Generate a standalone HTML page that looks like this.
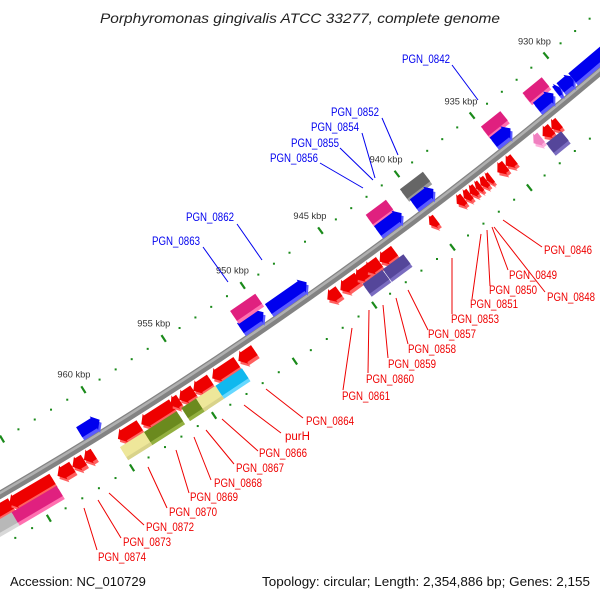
<!DOCTYPE html>
<html><head><meta charset="utf-8"><style>
html,body{margin:0;padding:0;background:#fff;}
svg{display:block;font-family:"Liberation Sans",sans-serif;}
</style></head><body>
<svg id="map" width="600" height="600" viewBox="0 0 600 600">
<text x="100" y="23" textLength="400" lengthAdjust="spacingAndGlyphs" font-size="14" font-style="italic" fill="#222">Porphyromonas gingivalis ATCC 33277, complete genome</text>
<g id="backbone-layer"></g>
<g id="tick-layer"></g>
<g id="gene-layer"></g>
<g id="label-layer" font-size="11.5"></g>
<text x="10" y="586" font-size="13" fill="#111">Accession: NC_010729</text>
<text x="262" y="586" textLength="328" lengthAdjust="spacingAndGlyphs" font-size="13" fill="#111">Topology: circular; Length: 2,354,886 bp; Genes: 2,155</text>
</svg>
<script>
const geneStart = [961.36,951.36,949.6,951.3,942.6,942.6,940.36,940.27,935.0,935.0,932.2,932.1,930.8,930.5,929.7,
 967.6,966.4,963.5,962.6,961.9,968.2,966.5,959.83,958.4,956.6,956.07,955.2,954.03,952.4,959.97,958.5,956.2,955.3,954.1,
 946.8,945.97,945.0,944.35,943.46,944.85,943.56,940.25,938.46,938.0,937.6,937.2,936.9,936.5,935.8,935.25,932.8,932.2,933.4,932.9];
const geneEnd = [960.11,949.9,947.16,949.7,941.28,941.04,938.85,938.96,933.7,933.85,930.9,930.97,930.5,929.6,927.0,
 966.3,963.8,962.6,961.9,961.3,966.5,963.8,958.5,956.5,956.06,955.18,954.15,952.5,951.4,958.46,956.5,955.1,954.1,952.46,
 946.06,944.85,944.0,943.47,942.5,943.6,942.24,939.8,938.0,937.6,937.2,936.9,936.5,936.2,935.25,934.7,932.2,931.7,932.9,931.9];
const geneRow = [-1,-1,-1,-2,-2,-1,-2,-1,-2,-1,-2,-1,-1,-1,-1,
 1,1,1,1,1,2,2,1,1,1,1,1,1,1,2,2,2,2,2,
 1,1,1,1,1,2,2,1,1,1,1,1,1,1,1,1,1,1,1,2];
const geneColor = ['blue','blue','blue','pink','pink','blue','gray','blue','pink','blue','pink','blue','blue','blue','blue',
 'red','red','red','red','red','lgray','pink','red','red','red','red','red','red','red','yellow','olive','olive','yellow','cyan',
 'red','red','red','red','red','purple','purple','red','red','red','red','red','red','red','red','red','red','red','lpink','purple'];
const geneArrow = [1,1,1,0,0,1,0,1,0,1,0,1,1,1,1,
 1,1,1,1,1,0,0,1,1,1,1,1,1,1,0,0,0,0,0,
 1,1,1,1,1,0,0,1,1,1,1,1,1,1,1,1,1,1,1,0];
const tickFirst = 926, tickLast = 970;
const majorTicks = [930,935,940,945,950,955,960,965];
const tickLabels = [930,935,940,945,950,955,960];

const CX=-2108, CY=-3131, R=4194;
const PALETTE={blue:['#0000ee','#5a5aff'],red:['#ee0000','#ff6060'],pink:['#e0207f','#ff70b0'],gray:['#666666','#9a9a9a'],
 lgray:['#b8b8b8','#d8d8d8'],purple:['#55469a','#7a6cc0'],olive:['#6b8a1e','#93b040'],yellow:['#eee79a','#d9d38a'],
 cyan:['#10b8ee','#66d8ff'],lpink:['#f080c0','#ffb0dd']};
function ang(kbp){return (58.1-(960-kbp)*0.263)*Math.PI/180;}
function P(kbp,r){const a=ang(kbp);return [CX+r*Math.cos(a),CY+r*Math.sin(a)];}
const NS='http://www.w3.org/2000/svg';
function mk(tag,parent){const e=document.createElementNS(NS,tag);parent.appendChild(e);return e;}

const bb=document.getElementById('backbone-layer');
function arcD(r){const a=P(975,r),b=P(920,r);return `M${a[0]},${a[1]} A${r},${r} 0 0 0 ${b[0]},${b[1]}`;}
const b1=mk('path',bb);b1.setAttribute('d',arcD(R));b1.setAttribute('stroke','#838383');b1.setAttribute('stroke-width','8');b1.setAttribute('fill','none');


const b2=mk('path',bb);b2.setAttribute('d',arcD(R-1.5));b2.setAttribute('stroke','#b0b0b0');b2.setAttribute('stroke-width','2.5');b2.setAttribute('fill','none');



const tl=document.getElementById('tick-layer');
for(let k=tickFirst;k<=tickLast;k++){
  const major=majorTicks.includes(k);
  [R-47,R+45].forEach(r=>{
    if(major){
      const a=P(k,r-4),b=P(k,r+4);
      const l=mk('line',tl);l.setAttribute('x1',a[0]);l.setAttribute('y1',a[1]);l.setAttribute('x2',b[0]);l.setAttribute('y2',b[1]);
      l.setAttribute('stroke','#1a8a1a');l.setAttribute('stroke-width','2.2');
      
      
    } else {
      const c=P(k,r);const d=mk('rect',tl);d.setAttribute('x',c[0]-1);d.setAttribute('y',c[1]-1);d.setAttribute('width',2);d.setAttribute('height',2);d.setAttribute('fill','#1a8a1a');
      
      
    }
  });
}
tickLabels.forEach(k=>{
  const c=P(k,R-65);const t=mk('text',tl);t.setAttribute('x',c[0]-16.5);t.setAttribute('y',c[1]+3);
  t.setAttribute('textLength','33');t.setAttribute('lengthAdjust','spacingAndGlyphs');
  t.setAttribute('font-size','9.5');t.setAttribute('fill','#333');t.textContent=k+' kbp';
  
  
});

const gl=document.getElementById('gene-layer');
function genePts(s,e,row,arrow){
  const sign=row<0?-1:1, lvl=Math.abs(row);
  const rIn=R+sign*(lvl===1?7:21), rOut=R+sign*(lvl===1?19:33);
  const rMid=(rIn+rOut)/2;
  let pts=[];
  const head=Math.min(0.35,Math.abs(s-e)*0.6);
  if(!arrow){pts=[P(s,rIn),P(e,rIn),P(e,rOut),P(s,rOut)];}
  else if(row<0){
    pts=[P(s,rIn),P(e+head,rIn),P(e+head,rIn+2),P(e,rMid),P(e+head,rOut-2),P(e+head,rOut),P(s,rOut)];
  } else {
    pts=[P(e,rIn),P(s-head,rIn),P(s-head,rIn-2),P(s,rMid),P(s-head,rOut+2),P(s-head,rOut),P(e,rOut)];
  }
  return pts.map(p=>p[0].toFixed(1)+','+p[1].toFixed(1)).join(' ');
}
for(let i=0;i<geneStart.length;i++){
  const pts=genePts(geneStart[i],geneEnd[i],geneRow[i],geneArrow[i]);
  const col=PALETTE[geneColor[i]];
  const sh=mk('polygon',gl);sh.setAttribute('points',pts);sh.setAttribute('fill',col[1]);sh.setAttribute('transform','translate(2,3)');
  
  
  const g=mk('polygon',gl);g.setAttribute('points',pts);g.setAttribute('fill',col[0]);
  
  
}

const LL=document.getElementById('label-layer');
const labels=[
 ['PGN_0842',402,63,'#0000ee',452,65,478,100],
 ['PGN_0852',331,116,'#0000ee',382,118,398,155],
 ['PGN_0854',311,131,'#0000ee',362,133,375,178],
 ['PGN_0855',291,147,'#0000ee',340,148,373,180],
 ['PGN_0856',270,162,'#0000ee',320,163,363,188],
 ['PGN_0862',186,221,'#0000ee',237,224,262,260],
 ['PGN_0863',152,245,'#0000ee',203,247,228,282],
 ['PGN_0846',544,254,'#ee0000',542,247,503,220],
 ['PGN_0849',509,279,'#ee0000',508,270,492,227],
 ['PGN_0848',547,301,'#ee0000',545,292,494,227],
 ['PGN_0850',489,294,'#ee0000',490,286,487,230],
 ['PGN_0851',470,308,'#ee0000',472,299,481,234],
 ['PGN_0853',451,323,'#ee0000',452,314,452,258],
 ['PGN_0857',428,338,'#ee0000',428,330,408,290],
 ['PGN_0858',408,353,'#ee0000',408,344,396,298],
 ['PGN_0859',388,368,'#ee0000',388,358,383,305],
 ['PGN_0860',366,383,'#ee0000',368,373,369,310],
 ['PGN_0861',342,400,'#ee0000',343,390,352,328],
 ['PGN_0864',306,425,'#ee0000',303,418,266,389],
 ['purH',285,440,'#ee0000',281,433,244,405],
 ['PGN_0866',259,457,'#ee0000',258,451,222,419],
 ['PGN_0867',236,472,'#ee0000',234,464,206,430],
 ['PGN_0868',214,487,'#ee0000',211,480,194,437],
 ['PGN_0869',190,501,'#ee0000',189,493,176,450],
 ['PGN_0870',169,516,'#ee0000',167,508,148,467],
 ['PGN_0872',146,531,'#ee0000',144,525,109,493],
 ['PGN_0873',123,546,'#ee0000',121,538,98,500],
 ['PGN_0874',98,561,'#ee0000',97,550,84,508]
];
labels.forEach(L=>{
  const ln=mk('line',LL);ln.setAttribute('x1',L[4]);ln.setAttribute('y1',L[5]);ln.setAttribute('x2',L[6]);ln.setAttribute('y2',L[7]);
  ln.setAttribute('stroke',L[3]);ln.setAttribute('stroke-width','1');
  
  
  const t=mk('text',LL);t.setAttribute('x',L[1]);t.setAttribute('y',L[2]);t.setAttribute('fill',L[3]);t.textContent=L[0];
  if(L[0].length===8){t.setAttribute('textLength','48');t.setAttribute('lengthAdjust','spacingAndGlyphs');}
  
  
});
</script>
</body></html>
